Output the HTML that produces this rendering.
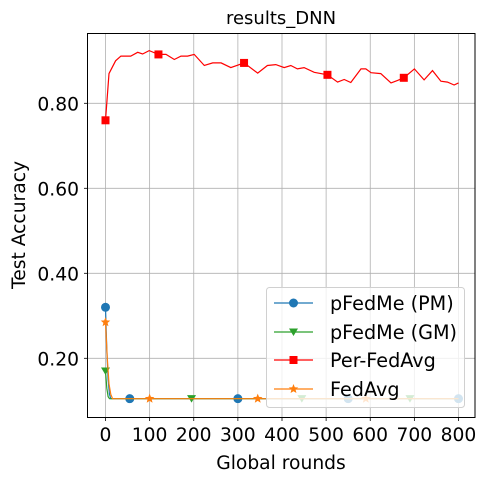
<!DOCTYPE html>
<html><head><meta charset="utf-8"><style>
body{margin:0;background:#fff;}
svg text{font-family:"DejaVu Sans","Liberation Sans",sans-serif;fill:#000;}
</style></head><body>
<svg id="chart" width="486" height="481" xmlns="http://www.w3.org/2000/svg">
<text x="281" y="24" font-size="18" text-anchor="middle">results_DNN</text>
<g id="grid"></g>
<g id="series"></g>
<rect x="87.5" y="33.5" width="387.5" height="384" fill="none" stroke="#000" stroke-width="1"/>
<g id="ticks"></g>
<text x="281" y="469" font-size="18.7" text-anchor="middle">Global rounds</text>
<text transform="translate(25,225) rotate(-90)" font-size="18.7" text-anchor="middle">Test Accuracy</text>
<g id="legend"></g>
</svg>
<script>
const xTicks=[0,100,200,300,400,500,600,700,800];
const yTicks=[0.2,0.4,0.6,0.8];
const yTickLabels=["0.20","0.40","0.60","0.80"];
const perRounds=[0,8,23,35,57,73,84,99,120,137,156,171,186,201,224,243,262,284,314,345,367,386,405,420,435,450,473,503,526,541,556,579,590,602,624,647,662,676,700,722,741,760,775,790,800];
const perAcc=[0.76,0.87,0.90,0.911,0.911,0.92,0.916,0.924,0.915,0.915,0.903,0.911,0.911,0.915,0.889,0.895,0.895,0.884,0.895,0.871,0.889,0.891,0.884,0.889,0.881,0.884,0.873,0.867,0.85,0.856,0.849,0.881,0.881,0.872,0.87,0.848,0.854,0.86,0.881,0.855,0.877,0.852,0.85,0.843,0.848];
const perMarkers=[0,120,314,503,676];
const pmRounds=[0,3,6,9,12,800];
const pmAcc=[0.32,0.22,0.15,0.115,0.105,0.105];
const pmMarkers=[0,55,300,550,800];
const gmRounds=[0,3,6,9,800];
const gmAcc=[0.17,0.13,0.11,0.105,0.105];
const gmMarkers=[0,195,445,690];
const faRounds=[0,4,8,12,16,800];
const faAcc=[0.285,0.2,0.14,0.115,0.105,0.105];
const faMarkers=[0,100,345,590];
const legendLabels=["pFedMe (PM)","pFedMe (GM)","Per-FedAvg","FedAvg"];

const NS="http://www.w3.org/2000/svg";
const X=r=>105.5+r*(458.5-105.5)/800;
const Y=v=>103.3-(v-0.8)*425;
function mk(tag,attrs,parent){const e=document.createElementNS(NS,tag);for(const k in attrs)e.setAttribute(k,attrs[k]);parent.appendChild(e);return e;}
const grid=document.getElementById('grid'),ticks=document.getElementById('ticks'),ser=document.getElementById('series'),leg=document.getElementById('legend');
xTicks.forEach(t=>{
 const l=mk('line',{x1:X(t),x2:X(t),y1:33.5,y2:417.5,stroke:'#b0b0b0','stroke-width':0.8},grid);
 
 
 mk('line',{x1:X(t),x2:X(t),y1:417.5,y2:421,stroke:'#000','stroke-width':0.8},ticks);
 const tx=mk('text',{x:X(t),y:441,'font-size':18.7,'text-anchor':'middle'},ticks);tx.textContent=t;
 
 
});
yTicks.forEach((t,i)=>{
 const l=mk('line',{x1:87.5,x2:475,y1:Y(t),y2:Y(t),stroke:'#b0b0b0','stroke-width':0.8},grid);
 
 
 mk('line',{x1:84,x2:87.5,y1:Y(t),y2:Y(t),stroke:'#000','stroke-width':0.8},ticks);
 const tx=mk('text',{x:79,y:Y(t)+7,'font-size':18.7,'text-anchor':'end'},ticks);tx.textContent=yTickLabels[i];
 
 
});
function marker(type,x,y,c,parent){
 let e;
 if(type==='o')e=mk('circle',{cx:x,cy:y,r:4.5,fill:c},parent);
 else if(type==='v')e=mk('path',{d:`M${x-4.5},${y-3.5}L${x+4.5},${y-3.5}L${x},${y+4}Z`,fill:c},parent);
 else if(type==='s')e=mk('rect',{x:x-4,y:y-4,width:8,height:8,fill:c},parent);
 else{let p='';for(let k=0;k<10;k++){const a=-Math.PI/2+k*Math.PI/5,r=k%2?2.2:5;p+=(k?'L':'M')+(x+r*Math.cos(a)).toFixed(2)+','+(y+r*Math.sin(a)).toFixed(2);}e=mk('path',{d:p+'Z',fill:c},parent);}
 return e;
}
function interp(rs,vs,r){for(let i=1;i<rs.length;i++)if(r<=rs[i]){const f=(r-rs[i-1])/(rs[i]-rs[i-1]||1);return vs[i-1]+f*(vs[i]-vs[i-1]);}return vs[vs.length-1];}
function series(rs,vs,ms,c,type,name){
 const g=mk('g',{},ser);
 
 
 const p=mk('path',{d:rs.map((r,i)=>(i?'L':'M')+X(r).toFixed(1)+','+Y(vs[i]).toFixed(1)).join(''),fill:'none',stroke:c,'stroke-width':1.2},g);
 
 
 ms.forEach(r=>{const m=marker(type,X(r),Y(interp(rs,vs,r)),c,g);
  
  });
}
series(pmRounds,pmAcc,pmMarkers,'#1f77b4','o','pfedme-pm');
series(gmRounds,gmAcc,gmMarkers,'#2ca02c','v','pfedme-gm');
series(perRounds,perAcc,perMarkers,'#ff0000','s','per-fedavg');
series(faRounds,faAcc,faMarkers,'#ff7f0e','*','fedavg');
mk('rect',{x:266.5,y:287.5,width:198,height:120,rx:3,fill:'#fff','fill-opacity':0.8,stroke:'#d0d0d0'},leg);
const cols=['#1f77b4','#2ca02c','#ff0000','#ff7f0e'],types=['o','v','s','*'],ly=[303,332,360,389];
legendLabels.forEach((s,i)=>{
 const g=mk('g',{},leg);
 
 
 mk('line',{x1:274,x2:313,y1:ly[i],y2:ly[i],stroke:cols[i],'stroke-width':1.2},g);
 marker(types[i],293.5,ly[i],cols[i],g);
 const t=mk('text',{x:330,y:ly[i]+7,'font-size':19.2},g);t.textContent=s;
});
</script>
</body></html>
